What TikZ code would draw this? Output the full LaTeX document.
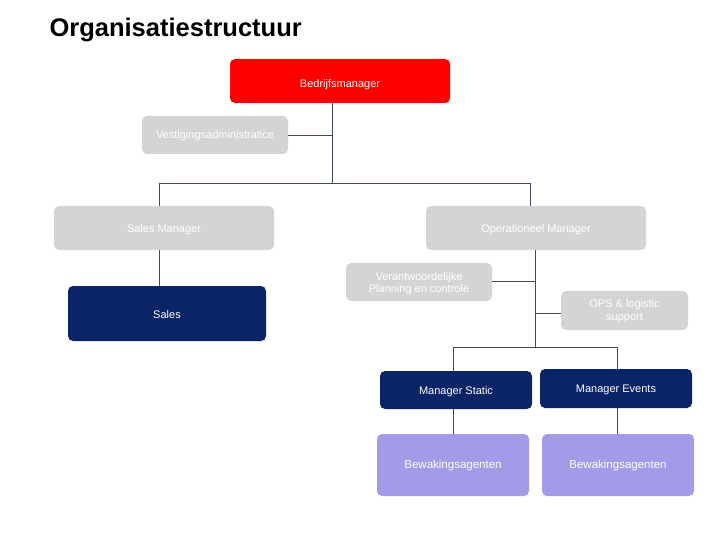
\documentclass[tikz,border=0pt]{standalone}
\usepackage{fontspec}
\setmainfont{Liberation Sans}
\usetikzlibrary{calc}
\definecolor{redbox}{HTML}{FF0000}
\definecolor{graybox}{HTML}{D4D4D4}
\definecolor{navybox}{HTML}{0B2468}
\definecolor{purplebox}{HTML}{A29BE8}
\definecolor{linecol}{HTML}{3E4A62}
\newcommand{\lowr}[2]{\raisebox{-#1}[\height][\depth]{#2}}
\begin{document}
\begin{tikzpicture}[x=1pt,y=-1pt,
  box/.style={rounded corners=5pt, inner sep=0pt, outer sep=0pt, text=white, font=\fontsize{11}{12.5}\selectfont, align=center},
  redb/.style={box, fill=redbox},
  grayb/.style={box, fill=graybox},
  navyb/.style={box, fill=navybox},
  purpb/.style={box, fill=purplebox, font=\fontsize{11.5}{13}\selectfont},
  conn/.style={draw=linecol, line width=0.9pt}]
\useasboundingbox (0,0) rectangle (720,540);
\node[anchor=base west, font=\fontsize{25.5}{30}\selectfont\bfseries] (title) at (46,37) {Organisatiestructuur};

\node[redb, minimum width=220pt, minimum height=44pt] (bm) at (340,81) {\lowr{3.5pt}{Bedrijfsmanager}};
\node[grayb, minimum width=146pt, minimum height=38pt] (va) at (215,135) {\lowr{1pt}{Vestigingsadministratice}};
\node[grayb, minimum width=220pt, minimum height=44pt] (sm) at (164,228) {\lowr{2pt}{Sales Manager}};
\node[grayb, minimum width=220pt, minimum height=44pt] (om) at (536,228) {\lowr{2pt}{Operationeel Manager}};
\node[navyb, minimum width=198pt, minimum height=55pt] (sa) at (167,313.5) {\lowr{1pt}{Sales}};
\node[grayb, minimum width=146pt, minimum height=38pt] (vp) at (419,282) {\lowr{2pt}{\begin{tabular}{@{}c@{}}Verantwoordelijke\\Planning en controle\end{tabular}}};
\node[grayb, minimum width=127pt, minimum height=39pt] (ops) at (624.5,310.5) {\lowr{1pt}{\begin{tabular}{@{}c@{}}OPS \& logistic\\support\end{tabular}}};
\node[navyb, minimum width=152pt, minimum height=38pt] (ms) at (456,390) {\lowr{1.5pt}{Manager Static}};
\node[navyb, minimum width=152pt, minimum height=39pt] (me) at (616,388.5) {\lowr{1.5pt}{Manager Events}};
\node[purpb, minimum width=152pt, minimum height=62pt] (b1) at (453,465) {\lowr{0.5pt}{Bewakingsagenten}};
\node[purpb, minimum width=152pt, minimum height=62pt] (b2) at (618,465) {\lowr{1pt}{Bewakingsagenten}};

\coordinate (j1) at (332,183);
\coordinate (jl) at (159,183);
\coordinate (jr) at (530,183);
\coordinate (jva) at (332,135);
\coordinate (j2) at (535,347);
\coordinate (j2l) at (453,347);
\coordinate (j2r) at (617,347);
\coordinate (jvp) at (535,281);
\coordinate (jops) at (535,313);

\draw[conn] (bm.south -| j1) -- (j1);
\draw[conn] (va.east) -- (jva);
\draw[conn] (jl) -- (jr);
\draw[conn] (jl) -- (sm.north -| jl);
\draw[conn] (jr) -- (om.north -| jr);
\draw[conn] (sm.south -| jl) -- (sa.north -| jl);
\draw[conn] (om.south -| j2) -- (j2);
\draw[conn] (vp.east |- jvp) -- (jvp);
\draw[conn] (ops.west |- jops) -- (jops);
\draw[conn] (j2l) -- (j2r);
\draw[conn] (j2l) -- (ms.north -| j2l);
\draw[conn] (j2r) -- (me.north -| j2r);
\draw[conn] (ms.south -| j2l) -- (b1.north -| j2l);
\draw[conn] (me.south -| j2r) -- (b2.north -| j2r);
\end{tikzpicture}
\end{document}
